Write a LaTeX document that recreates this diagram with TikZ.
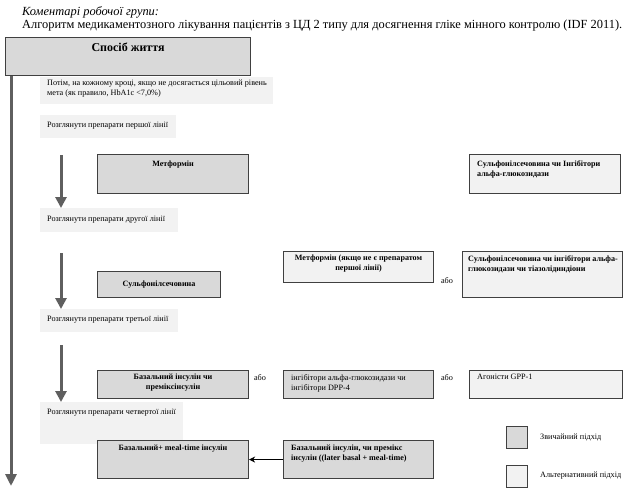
\documentclass[tikz,border=0pt]{standalone}
\usepackage{fontspec}
\setmainfont{Liberation Serif}
\usetikzlibrary{arrows.meta}
\definecolor{gfill}{HTML}{D9D9D9}
\definecolor{lfill}{HTML}{F2F2F2}
\definecolor{edgec}{HTML}{404040}
\definecolor{arrc}{HTML}{5F5F5F}
\begin{document}
\begin{tikzpicture}[x=1pt,y=-1pt,
  box/.style={draw=edgec, line width=1.1pt, anchor=north west, inner sep=0pt},
  gbox/.style={box, fill=gfill},
  lbox/.style={box, fill=lfill},
  notebox/.style={fill=lfill, anchor=north west, inner sep=0pt},
  txt/.style={font=\fontsize{8.2}{10}\selectfont, inner sep=0pt},
  btxt/.style={font=\fontsize{8.1}{10}\selectfont\bfseries, inner sep=0pt},
  ortxt/.style={font=\fontsize{8.2}{10}\selectfont, inner sep=0pt},
  bigarrow/.style={draw=arrc, line width=3pt, -{Triangle[length=12pt,width=11pt]}},
  smallarrow/.style={draw=arrc, line width=3pt, -{Triangle[length=11pt,width=11pt]}},
  blackarrow/.style={draw=black, line width=1.6pt, -{Stealth[length=6pt,width=6pt]}}
]
\useasboundingbox[fill=white] (0,0) rectangle (640,490);

% titles
\node[anchor=west, font=\itshape\fontsize{12.4}{14}\selectfont, inner sep=0pt] (t1) at (22,12) {Коментарі робочої групи:};
\node[anchor=west, font=\fontsize{12.4}{14}\selectfont, inner sep=0pt] (t2) at (22,26) {Алгоритм медикаментозного лікування пацієнтів з ЦД 2 типу для досягнення гліке мінного контролю (IDF 2011).};

% life style box
\node[gbox, minimum width=245pt, minimum height=38pt] (life) at (5,37) {};
\node[font=\fontsize{12}{14}\selectfont\bfseries, anchor=north, inner sep=0pt] (lifet) at ([yshift=-6pt]life.north) {Спосіб життя};

% big arrow
\coordinate (bigend) at (11,486);
\draw[bigarrow] (life.south -| bigend) -- (bigend);

% notes
\node[notebox, minimum width=233pt, minimum height=27pt] (n0) at (40,77) {};
\node[txt, anchor=north west, align=left] (n0t) at (47,80) {Потім, на кожному кроці, якщо не досягається цільовий рівень\\мета (як правило, HbA1c <7,0\%)};
\node[notebox, minimum width=136pt, minimum height=23pt] (n1) at (40,115) {};
\node[txt, anchor=west] (n1t) at (47,126) {Розглянути препарати першої лінії};
\node[notebox, minimum width=138pt, minimum height=24pt] (n2) at (40,208) {};
\node[txt, anchor=west] (n2t) at (47,220) {Розглянути препарати другої лінії};
\node[notebox, minimum width=138pt, minimum height=23pt] (n3) at (40,309) {};
\node[txt, anchor=west] (n3t) at (47,320) {Розглянути препарати третьої лінії};
\node[notebox, minimum width=143pt, minimum height=42pt] (n4) at (40,402) {};
\node[txt, anchor=west] (n4t) at (47,413) {Розглянути препарати четвертої лінії};

% small arrows
\coordinate (a1) at (61,155);
\draw[smallarrow] (a1) -- (n2.north -| a1);
\coordinate (a2) at (61,253);
\draw[smallarrow] (a2) -- (n3.north -| a2);
\coordinate (a3) at (61,345);
\draw[smallarrow] (a3) -- (n4.north -| a3);

% row 1
\node[gbox, minimum width=151pt, minimum height=39pt] (met) at (97,154) {};
\node[btxt, anchor=north] (mett) at ([yshift=-7pt]met.north) {Метформін};
\node[lbox, minimum width=151pt, minimum height=39pt] (alt1) at (469,154) {};
\node[btxt, anchor=north west, align=left] (alt1t) at ([xshift=8pt,yshift=-6pt]alt1.north west) {Сульфонілсечовина чи Інгібітори\\альфа-глюкозидази};

% row 2
\node[gbox, minimum width=123pt, minimum height=26pt] (sulf) at (97,271) {};
\node[btxt] (sulft) at (sulf.center) {Сульфонілсечовина};
\node[lbox, minimum width=150pt, minimum height=31pt] (met2) at (283,251) {};
\node[btxt, anchor=north, align=center] (met2t) at ([yshift=-4pt]met2.north) {Метформін (якщо не є препаратом\\першої лінії)};
\node[ortxt] (or1) at (447,281) {або};
\node[lbox, minimum width=160pt, minimum height=46pt] (alt2) at (462,251) {};
\node[btxt, anchor=north west, align=left] (alt2t) at ([xshift=6pt,yshift=-4pt]alt2.north west) {Сульфонілсечовина чи інгібітори альфа-\\глюкозидази чи тіазолідиндіони};

% row 3
\node[gbox, minimum width=151pt, minimum height=28pt] (bas) at (97,370) {};
\node[btxt, anchor=north, align=center] (bast) at ([yshift=-4pt]bas.north) {Базальний інсулін чи\\преміксінсулін};
\node[ortxt] (or2) at (260,378) {або};
\node[gbox, minimum width=150pt, minimum height=28pt] (inh) at (283,370) {};
\node[txt, anchor=north west, align=left] (inht) at ([xshift=8pt,yshift=-4pt]inh.north west) {інгібітори альфа-глюкозидази чи\\інгібітори DPP-4};
\node[ortxt] (or3) at (447,378) {або};
\node[lbox, minimum width=153pt, minimum height=28pt] (glp) at (469,370) {};
\node[txt, anchor=north west] (glpt) at ([xshift=8pt,yshift=-4pt]glp.north west) {Агоністи GPP-1};

% row 4
\node[gbox, minimum width=151pt, minimum height=38pt] (bm) at (97,440) {};
\node[btxt, anchor=north] (bmt) at ([yshift=-5pt]bm.north) {Базальний+ meal-time інсулін};
\node[gbox, minimum width=150pt, minimum height=38pt] (bp) at (283,440) {};
\node[btxt, anchor=north west, align=left] (bpt) at ([xshift=8pt,yshift=-5pt]bp.north west) {Базальний інсулін, чи премікс\\інсулін ((later basal + meal-time)};
\draw[blackarrow] (bp.west) -- (bm.east);

% legend
\node[gbox, minimum width=21pt, minimum height=22pt] (lg1) at (506,426) {};
\node[txt, anchor=west] (lg1t) at (540,437) {Звичайний підхід};
\node[lbox, minimum width=21pt, minimum height=22pt] (lg2) at (506,465) {};
\node[txt, anchor=west] (lg2t) at (540,476) {Альтернативний підхід};
\end{tikzpicture}
\end{document}
